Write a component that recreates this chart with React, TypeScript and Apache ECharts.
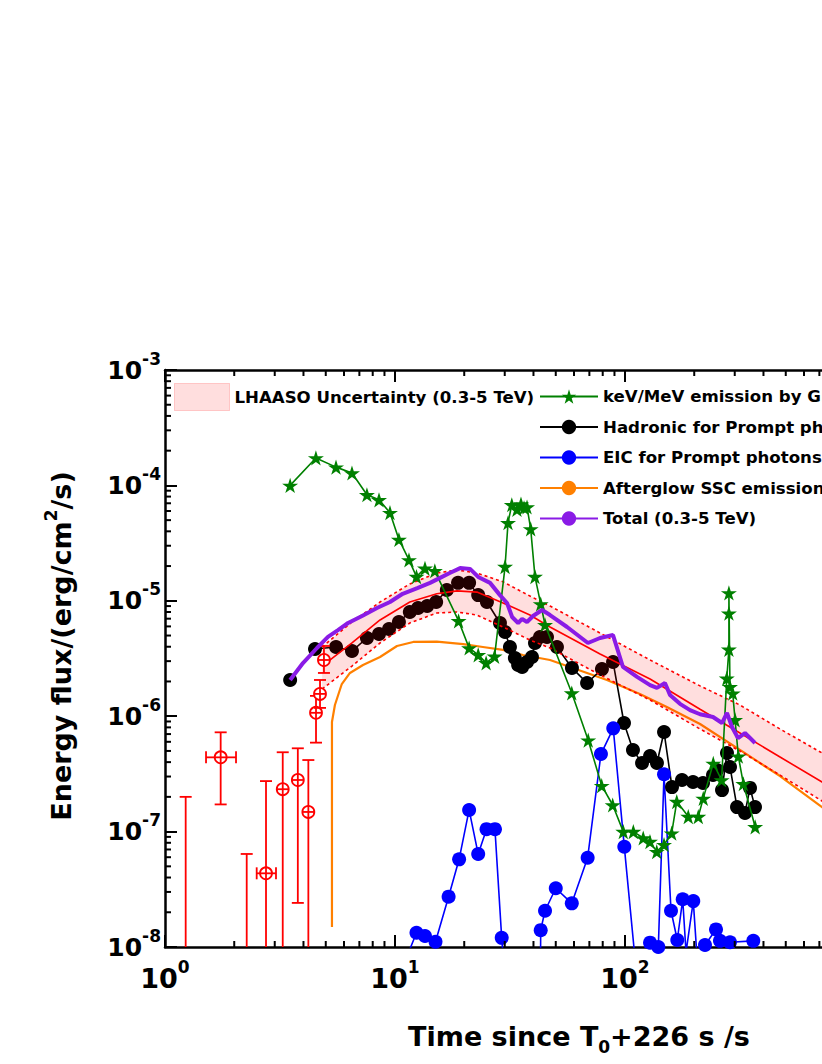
import React, { useEffect, useRef } from "react";
import * as echarts from "echarts";

// ---------- data (time in s, energy flux in erg/cm^2/s) ----------
const GREEN_T = [3.5, 4.53, 5.54, 6.5, 7.55, 8.52, 9.51, 10.4, 11.5, 12.4, 13.5, 14.9, 18.9, 21.0, 23.0, 24.9, 27.1, 30.1, 31.0, 32.2, 33.9, 35.3, 36.4, 37.5, 38.9, 40.6, 43.0, 44.9, 58.7, 69.2, 79.2, 88.4, 98.3, 108.7, 120, 128.4, 137.4, 147.8, 159.6, 167.9, 188.4, 208.3, 218.9, 242, 263, 277, 283, 283, 283, 286, 294, 301, 311, 327, 368];
const GREEN_F = [1.0e-4, 1.73e-4, 1.44e-4, 1.28e-4, 8.3e-5, 7.5e-5, 5.8e-5, 3.4e-5, 2.26e-5, 1.62e-5, 1.91e-5, 1.82e-5, 6.7e-6, 3.9e-6, 3.4e-6, 2.9e-6, 3.3e-6, 1.98e-5, 4.75e-5, 6.8e-5, 6.2e-5, 6.9e-5, 6.4e-5, 6.5e-5, 4.2e-5, 1.62e-5, 9.4e-6, 6.2e-6, 1.59e-6, 6.2e-7, 2.5e-7, 1.7e-7, 1.0e-7, 1.0e-7, 8.8e-8, 8.2e-8, 6.7e-8, 7.7e-8, 9.7e-8, 1.82e-7, 1.35e-7, 1.35e-7, 1.94e-7, 3.9e-7, 2.8e-7, 2.13e-6, 3.8e-6, 7.8e-6, 1.17e-5, 1.8e-6, 1.58e-6, 9.3e-7, 4.5e-7, 2.6e-7, 1.1e-7];

const BLACK_T = [3.5, 4.49, 5.54, 6.5, 7.55, 8.52, 9.42, 10.4, 11.6, 12.6, 13.8, 15.1, 16.8, 18.8, 21.0, 23.0, 25.1, 28.6, 30.1, 31.6, 33.2, 34.3, 35.7, 37.5, 39.4, 40.6, 42.7, 45.8, 50.6, 58.8, 68.4, 79.4, 88.7, 99.0, 108.3, 118.6, 128.5, 137.7, 147.8, 160.1, 176.9, 197.6, 218.3, 241.3, 251.2, 264.1, 277.6, 286.1, 306.9, 332.4, 349.6, 367.5];
const BLACK_F = [2.06e-6, 3.82e-6, 3.98e-6, 3.67e-6, 4.76e-6, 5.16e-6, 5.69e-6, 6.55e-6, 8.0e-6, 8.66e-6, 9.02e-6, 9.76e-6, 1.24e-5, 1.43e-5, 1.43e-5, 1.12e-5, 9.76e-6, 6.42e-6, 5.36e-6, 3.98e-6, 3.19e-6, 2.78e-6, 2.67e-6, 2.95e-6, 3.26e-6, 4.31e-6, 4.86e-6, 4.86e-6, 3.98e-6, 2.62e-6, 1.94e-6, 2.56e-6, 2.95e-6, 8.73e-7, 5.1e-7, 3.93e-7, 4.52e-7, 3.93e-7, 7.3e-7, 2.43e-7, 2.8e-7, 2.69e-7, 2.64e-7, 3.09e-7, 3.42e-7, 2.29e-7, 4.8e-7, 3.63e-7, 1.63e-7, 1.45e-7, 2.39e-7, 1.63e-7];

const BLUE_T = [10.9, 12.4, 13.5, 15.0, 17.1, 19.0, 21.0, 23.0, 25.0, 27.2, 29.1, 41.9, 43.0, 44.9, 50.0, 58.7, 68.8, 78.6, 88.9, 99.3, 110.5, 128.5, 139.6, 147.8, 158.5, 168.8, 178.2, 184.2, 198.1, 205, 222.7, 248.7, 258.8, 286.1, 361.3];
const BLUE_F = [7e-9, 1.33e-8, 1.245e-8, 1.11e-8, 2.73e-8, 5.75e-8, 1.54e-7, 6.39e-8, 1.05e-7, 1.05e-7, 1.2e-8, 1e-12, 1.4e-8, 2.06e-8, 3.23e-8, 2.39e-8, 5.94e-8, 4.7e-7, 7.85e-7, 7.4e-8, 8e-9, 1.09e-8, 1.0e-8, 3.14e-7, 2.06e-8, 1.15e-8, 2.59e-8, 9e-9, 2.5e-8, 9e-9, 1.04e-8, 1.42e-8, 1.13e-8, 1.1e-8, 1.13e-8];

const ORANGE_T = [5.32, 5.32, 5.32, 5.32, 5.48, 5.87, 6.37, 7.26, 8.61, 10.2, 12.0, 15.2, 19.8, 24.1, 29.5, 36.0, 47.2, 56.0, 83.5, 116, 152, 212, 316, 472, 719, 1000];
const ORANGE_F = [1.49e-8, 3.81e-8, 1.19e-7, 8.9e-7, 1.25e-6, 1.9e-6, 2.37e-6, 2.78e-6, 3.26e-6, 4.06e-6, 4.4e-6, 4.43e-6, 4.22e-6, 3.98e-6, 3.75e-6, 3.39e-6, 3.07e-6, 2.72e-6, 2.06e-6, 1.56e-6, 1.2e-6, 8.56e-7, 5.1e-7, 3.03e-7, 1.63e-7, 1.03e-7];

const PURPLE_T = [3.5, 3.98, 4.58, 5.11, 5.65, 6.25, 7.19, 8.35, 9.51, 10.8, 12.5, 14.2, 15.7, 17.3, 19.2, 21.2, 23.0, 25.9, 28.6, 30.7, 32.3, 34.3, 35.7, 37.5, 39.8, 43.6, 47.2, 56.0, 69.0, 77.9, 88.7, 98.0, 112.8, 128.5, 137.7, 149.2, 156.9, 173.4, 191.7, 212, 241.3, 264.1, 277.6, 291.9, 309.9, 332.4, 349.6, 367.5];
const PURPLE_F = [2.06e-6, 2.89e-6, 3.9e-6, 4.86e-6, 5.58e-6, 6.42e-6, 7.38e-6, 8.66e-6, 9.76e-6, 1.15e-5, 1.29e-5, 1.43e-5, 1.58e-5, 1.74e-5, 1.92e-5, 1.89e-5, 1.61e-5, 1.43e-5, 1.12e-5, 9.57e-6, 7.24e-6, 6.42e-6, 6.96e-6, 6.55e-6, 7.38e-6, 8.32e-6, 7.53e-6, 5.93e-6, 4.31e-6, 4.76e-6, 5.05e-6, 2.67e-6, 2.19e-6, 1.86e-6, 1.76e-6, 1.94e-6, 1.53e-6, 1.28e-6, 1.13e-6, 1.04e-6, 9.84e-7, 8.73e-7, 1.07e-6, 8.06e-7, 6.47e-7, 7.15e-7, 6.47e-7, 5.86e-7];

// LHAASO uncertainty band
const BAND_T = [4.82, 6.5, 8.61, 11.6, 15.2, 18.6, 22.7, 29.5, 38.6, 47.2, 77.9, 128.5, 212, 316, 472, 719, 1000];
const BAND_CENTER = [2.72e-6, 4.31e-6, 6.82e-6, 9.76e-6, 1.15e-5, 1.22e-5, 1.19e-5, 9.57e-6, 7.53e-6, 5.93e-6, 3.46e-6, 2.1e-6, 1.15e-6, 7.15e-7, 4.43e-7, 2.69e-7, 1.77e-7];
const BAND_UPPER = [3.98e-6, 6.55e-6, 9.76e-6, 1.4e-5, 1.74e-5, 1.85e-5, 1.74e-5, 1.46e-5, 1.1e-5, 9.02e-6, 5.26e-6, 3.07e-6, 1.83e-6, 1.25e-6, 7.75e-7, 4.8e-7, 3.22e-7];
const BAND_LOWER = [1.72e-6, 2.72e-6, 4.31e-6, 6.42e-6, 7.84e-6, 8.0e-6, 7.53e-6, 5.93e-6, 4.57e-6, 3.9e-6, 2.28e-6, 1.38e-6, 7.75e-7, 4.99e-7, 3.09e-7, 1.84e-7, 1.21e-7];

// red measurements with error bars
const RED_T = [1.746, 2.749, 3.25, 3.78, 4.2, 4.535, 4.72, 4.91];
const RED_F = [4.4e-7, 4.35e-8, 2.33e-7, 2.8e-7, 1.48e-7, 1.07e-6, 1.56e-6, 3.07e-6];
const RED_XLO = [1.508, 2.504, 3.25, 3.78, 4.2, 4.535, 4.72, 4.91];
const RED_XHI = [2.036, 3.038, 3.25, 3.78, 4.2, 4.535, 4.72, 4.91];
const RED_YLO = [1.72e-7, 1e-8, 1e-8, 2.41e-8, 1e-8, 5.9e-7, 1.18e-6, 2.37e-6];
const RED_YHI = [7.25e-7, 2.74e-7, 4.87e-7, 5.27e-7, 4.17e-7, 1.5e-6, 2.06e-6, 4.06e-6];
// red upper limits
const UL_T = [1.23, 2.266];
const UL_F = [2.0e-7, 6.4e-8];

// axes
const X_MIN = 1;
const X_MAX = 1000;
const Y_MIN = 1e-8;
const Y_MAX = 1e-3;
const X_DECADES = [1, 10, 100];
const Y_DECADES = [1e-8, 1e-7, 1e-6, 1e-5, 1e-4];
const MINOR_MULT = [2, 3, 4, 5, 6, 7, 8, 9];

const LEG_BAND = "LHAASO Uncertainty (0.3-5 TeV)";
const LEG_GREEN = "keV/MeV emission by GECAM";
const LEG_BLACK = "Hadronic for Prompt photons";
const LEG_BLUE = "EIC for Prompt photons";
const LEG_ORANGE = "Afterglow SSC emission";
const LEG_PURPLE = "Total (0.3-5 TeV)";

const FONT = '"DejaVu Sans", sans-serif';
const STAR = "path://M50,0 L61,35 L98,35 L68,57 L79,91 L50,70 L21,91 L32,57 L2,35 L39,35 Z";

const zip = (a: number[], b: number[]) => a.map((v, i) => [v, b[i]]);

const expLabel = (v: number) => `{b|10}{s|${Math.round(Math.log10(v))}}`;

export default function App() {
  const ref = useRef<HTMLDivElement>(null);

  useEffect(() => {
    const chart = echarts.init(ref.current as HTMLDivElement, null, { renderer: "svg" });

    const axisCommon = {
      type: "log",
      logBase: 10,
      splitLine: { show: false },
      minorTick: { show: false },
      minorSplitLine: { show: false },
      axisLine: { show: true, onZero: false, lineStyle: { color: "#000", width: 2.5 } },
      axisTick: { show: true, inside: true, length: 12, lineStyle: { color: "#000", width: 2 } },
    };

    const xRich = {
      b: { fontFamily: FONT, fontWeight: "bold", fontSize: 27, lineHeight: 40, color: "#000" },
      s: { fontFamily: FONT, fontWeight: "bold", fontSize: 17, lineHeight: 17, verticalAlign: "top", color: "#000" },
    };
    const yRich = {
      b: { fontFamily: FONT, fontWeight: "bold", fontSize: 25, lineHeight: 40, color: "#000" },
      s: { fontFamily: FONT, fontWeight: "bold", fontSize: 17, lineHeight: 17, verticalAlign: "top", color: "#000" },
    };

    const redData = RED_T.map((t, i) => [t, RED_F[i], RED_XLO[i], RED_XHI[i], RED_YLO[i], RED_YHI[i], 1]).concat(
      UL_T.map((t, i) => [t, UL_F[i], t, t, Y_MIN, UL_F[i], 0])
    );

    const legendText = { fontFamily: FONT, fontWeight: "bold", fontSize: 16.6, color: "#000" };

    const option: any = {
      animation: false,
      backgroundColor: "#fff",
      grid: { left: 165, top: 370, width: 690, height: 577, containLabel: false },
      xAxis: [
        {
          ...axisCommon,
          min: X_MIN,
          max: X_MAX,
          position: "bottom",
          axisLabel: { show: true, margin: 11, formatter: expLabel, rich: xRich },
        },
        {
          ...axisCommon,
          min: X_MIN,
          max: X_MAX,
          position: "top",
          axisLabel: { show: false },
        },
      ],
      yAxis: [
        {
          ...axisCommon,
          min: Y_MIN,
          max: Y_MAX,
          position: "left",
          axisLabel: { show: true, margin: 4, formatter: expLabel, rich: yRich },
        },
        {
          ...axisCommon,
          min: Y_MIN,
          max: Y_MAX,
          position: "right",
          axisLabel: { show: false },
        },
      ],
      legend: [
        {
          data: [
            {
              name: LEG_BAND,
              icon: "rect",
              itemStyle: { color: "rgba(255,0,0,0.13)", borderColor: "#ff9a9a", borderWidth: 1, borderType: "dotted" },
            },
          ],
          left: 174,
          top: 383,
          padding: 0,
          itemWidth: 55,
          itemHeight: 27,
          selectedMode: false,
          textStyle: legendText,
        },
        {
          data: [LEG_GREEN, LEG_BLACK, LEG_BLUE, LEG_ORANGE, LEG_PURPLE],
          orient: "vertical",
          left: 539,
          top: 388,
          padding: 0,
          itemWidth: 58,
          itemHeight: 18,
          itemGap: 13.5,
          selectedMode: false,
          textStyle: legendText,
        },
      ],
      graphic: [
        {
          type: "text",
          x: 61,
          y: 646,
          rotation: Math.PI / 2,
          style: {
            text: "Energy flux/(erg/cm{sup|2}/s)",
            fontFamily: FONT,
            fontWeight: "bold",
            fontSize: 27,
            lineHeight: 38,
            fill: "#000",
            align: "center",
            verticalAlign: "middle",
            rich: {
              sup: { fontFamily: FONT, fontWeight: "bold", fontSize: 17, lineHeight: 17, verticalAlign: "top", fill: "#000" },
            },
          },
        },
        {
          type: "text",
          x: 579,
          y: 1036,
          style: {
            text: "Time since T{sub|0}+226 s /s",
            fontFamily: FONT,
            fontWeight: "bold",
            fontSize: 27,
            lineHeight: 38,
            fill: "#000",
            align: "center",
            verticalAlign: "middle",
            rich: {
              sub: { fontFamily: FONT, fontWeight: "bold", fontSize: 17, lineHeight: 17, verticalAlign: "bottom", fill: "#000" },
            },
          },
        },
      ],
      series: [
        {
          name: LEG_ORANGE,
          type: "line",
          z: 2,
          data: zip(ORANGE_T, ORANGE_F),
          symbol: "none",
          clip: true,
          lineStyle: { color: "#ff8000", width: 2.2 },
          itemStyle: { color: "#ff8000" },
        },
        {
          name: LEG_BLACK,
          type: "line",
          z: 2,
          data: zip(BLACK_T, BLACK_F),
          symbol: "circle",
          symbolSize: 14,
          clip: true,
          lineStyle: { color: "#000", width: 1.6 },
          itemStyle: { color: "#000" },
        },
        {
          name: LEG_BLUE,
          type: "line",
          z: 2,
          data: zip(BLUE_T, BLUE_F),
          symbol: "circle",
          symbolSize: 14,
          clip: true,
          lineStyle: { color: "#0000ff", width: 1.6 },
          itemStyle: { color: "#0000ff" },
        },
        {
          name: LEG_BAND,
          type: "custom",
          z: 3,
          silent: true,
          clip: true,
          data: [[BAND_T[0], BAND_CENTER[0]]],
          itemStyle: { color: "rgba(255,0,0,0.13)" },
          renderItem: (params: any, api: any) => {
            const pts: number[][] = [];
            for (let i = 0; i < BAND_T.length; i++) pts.push(api.coord([BAND_T[i], BAND_UPPER[i]]));
            for (let i = BAND_T.length - 1; i >= 0; i--) pts.push(api.coord([BAND_T[i], BAND_LOWER[i]]));
            return {
              type: "polygon",
              shape: { points: pts },
              style: { fill: "rgba(255,0,0,0.13)", stroke: null },
            };
          },
        },
        {
          name: "band-center",
          type: "line",
          z: 4,
          data: zip(BAND_T, BAND_CENTER),
          symbol: "none",
          clip: true,
          lineStyle: { color: "#ff0000", width: 1.6 },
        },
        {
          name: "band-upper",
          type: "line",
          z: 4,
          data: zip(BAND_T, BAND_UPPER),
          symbol: "none",
          clip: true,
          lineStyle: { color: "#ff0000", width: 1.6, type: [3, 3] },
        },
        {
          name: "band-lower",
          type: "line",
          z: 4,
          data: zip(BAND_T, BAND_LOWER),
          symbol: "none",
          clip: true,
          lineStyle: { color: "#ff0000", width: 1.6, type: [3, 3] },
        },
        {
          name: LEG_GREEN,
          type: "line",
          z: 5,
          data: zip(GREEN_T, GREEN_F),
          symbol: STAR,
          symbolSize: 16,
          symbolKeepAspect: true,
          clip: true,
          lineStyle: { color: "#008000", width: 1.6 },
          itemStyle: { color: "#008000" },
        },
        {
          name: "red-points",
          type: "custom",
          z: 5,
          silent: true,
          clip: true,
          data: redData,
          renderItem: (params: any, api: any) => {
            const t = api.value(0);
            const f = api.value(1);
            const xlo = api.value(2);
            const xhi = api.value(3);
            const ylo = api.value(4);
            const yhi = api.value(5);
            const hasMarker = api.value(6) > 0.5;
            const stroke = { stroke: "#ff0000", lineWidth: 1.8 };
            const c = api.coord([t, f]);
            const top = api.coord([t, yhi]);
            const bot = api.coord([t, ylo]);
            const cap = 6;
            const children: any[] = [];
            children.push({ type: "line", shape: { x1: top[0], y1: top[1], x2: bot[0], y2: bot[1] }, style: stroke });
            children.push({ type: "line", shape: { x1: top[0] - cap, y1: top[1], x2: top[0] + cap, y2: top[1] }, style: stroke });
            if (ylo > Y_MIN * 1.01) {
              children.push({ type: "line", shape: { x1: bot[0] - cap, y1: bot[1], x2: bot[0] + cap, y2: bot[1] }, style: stroke });
            }
            if (xhi > xlo * 1.01) {
              const l = api.coord([xlo, f]);
              const r = api.coord([xhi, f]);
              children.push({ type: "line", shape: { x1: l[0], y1: l[1], x2: r[0], y2: r[1] }, style: stroke });
              children.push({ type: "line", shape: { x1: l[0], y1: l[1] - cap, x2: l[0], y2: l[1] + cap }, style: stroke });
              children.push({ type: "line", shape: { x1: r[0], y1: r[1] - cap, x2: r[0], y2: r[1] + cap }, style: stroke });
            }
            if (hasMarker) {
              const rr = 6;
              children.push({ type: "circle", shape: { cx: c[0], cy: c[1], r: rr }, style: { fill: "#fff", stroke: "#ff0000", lineWidth: 1.8 } });
              children.push({ type: "line", shape: { x1: c[0] - rr, y1: c[1], x2: c[0] + rr, y2: c[1] }, style: stroke });
              children.push({ type: "line", shape: { x1: c[0], y1: c[1] - rr, x2: c[0], y2: c[1] + rr }, style: stroke });
            }
            return { type: "group", children };
          },
        },
        {
          name: LEG_PURPLE,
          type: "line",
          z: 6,
          data: zip(PURPLE_T, PURPLE_F),
          symbol: "none",
          clip: true,
          lineStyle: { color: "#8A1BE6", width: 4 },
          itemStyle: { color: "#8A1BE6" },
        },
        {
          name: "minor-ticks",
          type: "custom",
          z: 10,
          silent: true,
          clip: false,
          data: [[X_MIN, Y_MIN]],
          renderItem: (params: any, api: any) => {
            const bl = api.coord([X_MIN, Y_MIN]);
            const tr = api.coord([X_MAX, Y_MAX]);
            const st = { stroke: "#000", lineWidth: 2 };
            const len = 6;
            const children: any[] = [];
            X_DECADES.forEach((d) =>
              MINOR_MULT.forEach((m) => {
                const x = api.coord([m * d, Y_MIN])[0];
                children.push({ type: "line", shape: { x1: x, y1: bl[1], x2: x, y2: bl[1] - len }, style: st });
                children.push({ type: "line", shape: { x1: x, y1: tr[1], x2: x, y2: tr[1] + len }, style: st });
              })
            );
            Y_DECADES.forEach((d) =>
              MINOR_MULT.forEach((m) => {
                const y = api.coord([X_MIN, m * d])[1];
                children.push({ type: "line", shape: { x1: bl[0], y1: y, x2: bl[0] + len, y2: y }, style: st });
                children.push({ type: "line", shape: { x1: tr[0], y1: y, x2: tr[0] - len, y2: y }, style: st });
              })
            );
            return { type: "group", children };
          },
        },
      ],
    };

    chart.setOption(option);
    return () => chart.dispose();
  }, []);

  return (
    <div style={{ position: "fixed", left: 0, top: 0, width: 822, height: 1064, overflow: "hidden", background: "#fff" }}>
      <div ref={ref} style={{ width: 1100, height: 1064 }} />
    </div>
  );
}
